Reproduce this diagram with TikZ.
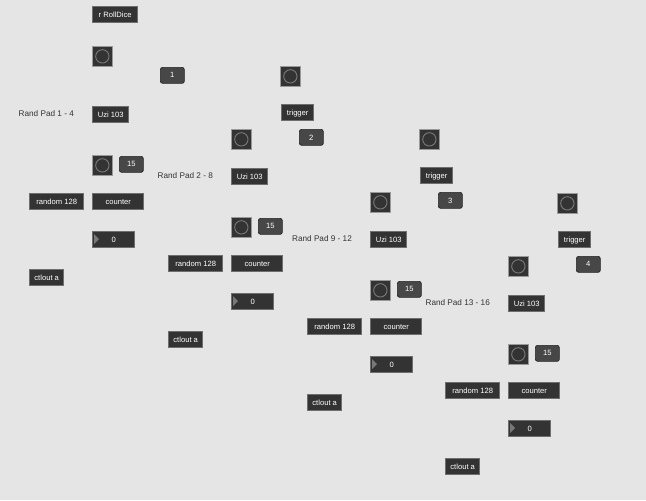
\documentclass[tikz,border=0pt]{standalone}
\usepackage{fontspec}
\setmainfont{Liberation Sans}
\usetikzlibrary{positioning}
\pgfdeclarelayer{cords}
\pgfsetlayers{cords,main}

\definecolor{patchbg}{RGB}{229,229,229}
\definecolor{objfill}{RGB}{51,51,51}
\definecolor{objedge}{RGB}{110,110,110}
\definecolor{cordgray}{RGB}{165,165,165}
\definecolor{ringgray}{RGB}{120,120,120}

\begin{document}
\begin{tikzpicture}[x=0.03cm, y=-0.03cm,
    obj/.style={draw=objedge, line width=1.2pt, fill=objfill, text=white, anchor=north west,
        minimum width=#1*0.03cm, minimum height=16*0.03cm, inner sep=0pt, inner xsep=2pt,
        align=left, font=\fontsize{6.5}{7}\selectfont, text depth=0pt},
    msgbox/.style={obj=#1, rounded corners=2pt, draw=objfill!70!black, line width=0.6pt, fill=objfill!90!white},
    bang/.style={draw=objedge!70!white, line width=0.6pt, fill=objfill, anchor=north west,
        minimum size=20*0.03cm, inner sep=0pt},
    ring/.style={draw=ringgray, line width=0.8pt},
    cord/.style={draw=cordgray, line width=2.4pt, line cap=round},
    padlabel/.style={anchor=east, font=\fontsize{7}{8}\selectfont, text=black!80}
]
\useasboundingbox[fill=patchbg] (0,0) rectangle (646,500);

% top of pad 1
\node[obj=45] (rolldice) at (92,6) {r RollDice};
\node[bang] (startbang) at (92,46) {};
\draw[ring] (startbang.center) circle[radius=0.2cm];

% the four pads
\foreach \k/\ux/\uy/\lab/\n in {1/92/106/{Rand Pad 1 - 4}/1, 2/231/168/{Rand Pad 2 - 8}/2,
    3/370/231/{Rand Pad 9 - 12}/3, 4/508/295/{Rand Pad 13 - 16}/4} {
  \node[padlabel] (lab\k) at (\ux-14,\uy+8) {\lab};
  \node[obj=36] (uzi\k) at (\ux,\uy) {Uzi 103};
  \node[bang] (padbang\k) at (\ux,\uy+49) {};
  \draw[ring] (padbang\k.center) circle[radius=0.2cm];
  \node[msgbox=24] (max\k) at (\ux+27,\uy+50) {15};
  \node[obj=54] (rand\k) at (\ux-63,\uy+87) {random 128};
  \node[obj=51] (count\k) at (\ux,\uy+87) {counter};
  \node[obj=42, inner xsep=7pt] (num\k) at (\ux,\uy+125) {0};
  \fill[ringgray] (\ux+2,\uy+128) -- (\ux+7,\uy+133) -- (\ux+2,\uy+138) -- cycle;
  \node[obj=34] (ctl\k) at (\ux-63,\uy+163) {ctlout a};
  \node[msgbox=24] (pad\k) at (\ux+68,\uy-39) {\n};
  % cords inside the pad
  \begin{pgfonlayer}{cords}
    \draw[cord] (\ux+6,\uy+16) -- (\ux+8,\uy+49);
    \draw[cord] (\ux+10,\uy+69) .. controls (\ux+10,\uy+82) and (\ux-59,\uy+74) .. (\ux-59,\uy+87);
    \draw[cord] (\ux+10,\uy+69) .. controls (\ux+10,\uy+78) and (\ux+4,\uy+78) .. (\ux+4,\uy+87);
    \draw[cord] (\ux+33,\uy+66) -- (\ux+35,\uy+87);
    \draw[cord] (\ux-59,\uy+103) -- (\ux-59,\uy+163);
    \draw[cord] (\ux+4,\uy+103) -- (\ux+4,\uy+125);
    \draw[cord] (\ux+4,\uy+141) .. controls (\ux+4,\uy+158) and (\ux-51,\uy+146) .. (\ux-51,\uy+163);
    \draw[cord] (\ux+74,\uy-23) .. controls (\ux+74,\uy+60) and (\ux-44,\uy+100) .. (\ux-44,\uy+163);
  \end{pgfonlayer}
}

% trigger heads of pads 2 to 4
\foreach \k/\ux/\uy in {2/231/168, 3/370/231, 4/508/295} {
  \node[bang] (entry\k) at (\ux,\uy-39) {};
  \draw[ring] (entry\k.center) circle[radius=0.2cm];
  \node[obj=32] (trig\k) at (\ux+50,\uy-64) {trigger};
  \node[bang] (next\k) at (\ux+49,\uy-102) {};
  \draw[ring] (next\k.center) circle[radius=0.2cm];
  \begin{pgfonlayer}{cords}
    \draw[cord] (\ux+59,\uy-82) -- (\ux+56,\uy-64);
    \draw[cord] (\ux+54,\uy-48) .. controls (\ux+54,\uy-38) and (\ux+8,\uy-50) .. (\ux+8,\uy-39);
    \draw[cord] (\ux+76,\uy-48) -- (\ux+75,\uy-39);
    \draw[cord] (\ux+10,\uy-19) .. controls (\ux+10,\uy-8) and (\ux+6,\uy-8) .. (\ux+6,\uy);
    \draw[cord] (\ux+10,\uy-19) .. controls (\ux+10,\uy+25) and (\ux+33,\uy+20) .. (\ux+33,\uy+50);
  \end{pgfonlayer}
}

% chaining the pads
\begin{pgfonlayer}{cords}
  \draw[cord] (96,22) -- (102,46);
  \draw[cord] (100,66) -- (98,106);
  \draw[cord] (102,66) .. controls (104,72) and (166,52) .. (168,67);
  \draw[cord] (102,66) .. controls (102,110) and (125,115) .. (125,156);
  \foreach \ux/\uy in {92/106, 231/168, 370/231}
    \draw[cord] (\ux+16,\uy+16) .. controls (\ux+20,\uy+32) and (\ux+190,\uy-75) .. (\ux+198,\uy-39);
\end{pgfonlayer}

\end{tikzpicture}
\end{document}
